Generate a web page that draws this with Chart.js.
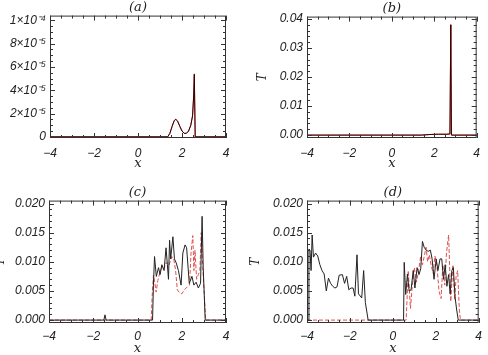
<!DOCTYPE html>
<html>
<head>
<meta charset="utf-8">
<script src="https://cdn.jsdelivr.net/npm/chart.js@4"></script>
<style>
body { margin: 0; background: #fff; width: 488px; height: 355px; overflow: hidden; position: relative; }
.panel { position: absolute; }
</style>
</head>
<body>
<div class="panel" style="left:0;top:0;width:244px;height:177px"><canvas id="pa"></canvas></div>
<div class="panel" style="left:244px;top:0;width:244px;height:177px"><canvas id="pb"></canvas></div>
<div class="panel" style="left:-8px;top:177px;width:252px;height:178px"><canvas id="pc"></canvas></div>
<div class="panel" style="left:244px;top:177px;width:244px;height:178px"><canvas id="pd"></canvas></div>
<script>
// x ticks shared by all panels
const xTicks = [-4, -2, 0, 2, 4]
const xTickLabels = ['\u22124', '\u22122', '0', '2', '4']

const yTicksA = [0, 2e-5, 4e-5, 6e-5, 8e-5, 1e-4]
const yLabelsA = ['0', '2\u00d710\u207b\u2075', '4\u00d710\u207b\u2075', '6\u00d710\u207b\u2075', '8\u00d710\u207b\u2075', '1\u00d710\u207b\u2074']
const yTicksB = [0, 0.01, 0.02, 0.03, 0.04]
const yLabelsB = ['0.00', '0.01', '0.02', '0.03', '0.04']
const yTicksCD = [0, 0.005, 0.01, 0.015, 0.02]
const yLabelsCD = ['0.000', '0.005', '0.010', '0.015', '0.020']

// (a)
const xA = [-4, 1.35, 1.45, 1.55, 1.65, 1.72, 1.8, 1.9, 2.0, 2.1, 2.2, 2.3, 2.4, 2.48, 2.53, 2.56, 2.6, 4]
const yA1 = [0, 0, 0.3e-5, 0.9e-5, 1.4e-5, 1.5e-5, 1.35e-5, 0.9e-5, 0.5e-5, 0.3e-5, 0.3e-5, 0.5e-5, 1.0e-5, 1.8e-5, 3.5e-5, 5.4e-5, 0, 0]
const yA2 = [0, 0, 0.3e-5, 0.9e-5, 1.4e-5, 1.5e-5, 1.35e-5, 0.9e-5, 0.5e-5, 0.3e-5, 0.3e-5, 0.5e-5, 1.0e-5, 1.8e-5, 3.5e-5, 5.3e-5, 0, 0]

// (b)
const xB = [-4, 1.4, 1.8, 2.2, 2.6, 2.74, 2.78, 2.81, 4]
const yB1 = [0, 0, 0.0002, 0.0003, 0.0003, 0.0004, 0.038, 0, 0]
const yB2 = [0, 0, 0.0002, 0.0003, 0.0003, 0.0004, 0.038, 0, 0]

// (c)
const xC1 = [-4, -1.52, -1.47, -1.42, 0.68, 0.72, 0.77, 0.85, 0.95, 1.02, 1.1, 1.2, 1.29, 1.35, 1.4, 1.45, 1.5, 1.6, 1.67, 1.75, 1.85, 1.97, 2.05, 2.15, 2.22, 2.34, 2.46, 2.55, 2.65, 2.75, 2.85, 2.92, 2.97, 3.06, 4]
const yC1 = [0, 0, 0.0009, 0, 0, 0.006, 0.0109, 0.0075, 0.009, 0.0078, 0.0095, 0.0085, 0.0124, 0.0095, 0.007, 0.0137, 0.0105, 0.0143, 0.0105, 0.0098, 0.0085, 0.006, 0.0115, 0.0129, 0.0124, 0.0063, 0.0075, 0.006, 0.0065, 0.0055, 0.0063, 0.0178, 0.009, 0, 0]
const xC2 = [-4, 0.62, 0.66, 0.72, 0.78, 0.84, 0.92, 1.0, 1.1, 1.2, 1.3, 1.42, 1.55, 1.65, 1.72, 1.8, 1.9, 2.0, 2.12, 2.25, 2.35, 2.42, 2.5, 2.55, 2.6, 2.67, 2.75, 2.82, 2.88, 2.95, 3.02, 3.08, 4]
const yC2 = [0, 0, 0.004, 0.0077, 0.0065, 0.0048, 0.0068, 0.008, 0.0091, 0.0088, 0.0099, 0.0094, 0.0109, 0.0102, 0.0086, 0.0052, 0.0047, 0.0045, 0.0052, 0.0057, 0.006, 0.0115, 0.0145, 0.0085, 0.012, 0.007, 0.0078, 0.0085, 0.015, 0.009, 0.0045, 0, 0]

// (d)
const xD1 = [-4, -3.93, -3.91, -3.86, -3.81, -3.76, -3.7, -3.6, -3.5, -3.4, -3.3, -3.2, -3.1, -3.0, -2.9, -2.8, -2.7, -2.6, -2.5, -2.35, -2.25, -2.15, -2.05, -1.95, -1.85, -1.77, -1.67, -1.6, -1.45, -1.36, -1.28, -1.15, 0.5, 0.53, 0.6, 0.68, 0.76, 0.85, 0.95, 1.03, 1.13, 1.22, 1.3, 1.38, 1.46, 1.55, 1.65, 1.75, 1.83, 1.92, 2.02, 2.1, 2.2, 2.28, 2.36, 2.44, 2.52, 2.6, 2.67, 2.75, 2.82, 2.9, 2.97, 3.05, 4]
const yD1 = [0, 0, 0.0122, 0.012, 0.0085, 0.0146, 0.0108, 0.0115, 0.011, 0.0095, 0.0085, 0.0079, 0.005, 0.0072, 0.0063, 0.0058, 0.0055, 0.0057, 0.0077, 0.0078, 0.0063, 0.0075, 0.0052, 0.0055, 0.0055, 0.0041, 0.0112, 0.0045, 0.0038, 0.0085, 0.003, 0, 0, 0.0099, 0.0044, 0.0079, 0.005, 0.0052, 0.0085, 0.0055, 0.009, 0.0078, 0.0088, 0.0135, 0.0125, 0.012, 0.0118, 0.012, 0.0105, 0.007, 0.0105, 0.0085, 0.0105, 0.0105, 0.007, 0.0095, 0.0058, 0.0078, 0.0045, 0.0085, 0.009, 0.004, 0.0019, 0, 0]
const xD2 = [-4, 0.62, 0.72, 0.82, 0.92, 1.0, 1.1, 1.2, 1.3, 1.38, 1.45, 1.55, 1.62, 1.7, 1.78, 1.88, 1.96, 2.05, 2.15, 2.25, 2.33, 2.42, 2.5, 2.6, 2.7, 2.8, 2.88, 2.95, 3.02, 3.1, 3.15, 4]
const yD2 = [0, 0, 0.0085, 0.002, 0.0065, 0.009, 0.0065, 0.0085, 0.011, 0.0095, 0.0107, 0.0125, 0.01, 0.0112, 0.0095, 0.008, 0.011, 0.0095, 0.005, 0.0037, 0.0095, 0.006, 0.0115, 0.0146, 0.0032, 0.0095, 0.0035, 0.0075, 0.0085, 0.0017, 0, 0]

const pts = (xs, ys) => xs.map((x, i) => ({x: x, y: ys[i]}))

// box round the plot with inward ticks on all four sides, like IDL
const frame = {
  id: 'frame',
  afterDatasetsDraw(chart, args, o) {
    const {ctx, chartArea: a, scales: {x, y}} = chart
    ctx.save()
    ctx.strokeStyle = '#333'
    ctx.lineWidth = 1
    ctx.strokeRect(a.left + 0.5, a.top + 0.5, a.width - 1, a.height - 1)
    ctx.beginPath()
    const nx = Math.round((x.max - x.min) / o.xMinor)
    for (let k = 0; k <= nx; k++) {
      const len = k % o.xPer == 0 ? 5 : 3
      const px = Math.round(x.getPixelForValue(x.min + k * o.xMinor)) + 0.5
      ctx.moveTo(px, a.bottom); ctx.lineTo(px, a.bottom - len)
      ctx.moveTo(px, a.top); ctx.lineTo(px, a.top + len)
    }
    for (let k = 0; o.y0 + k * o.yMinor <= y.max; k++) {
      const len = k % o.yPer == 0 ? 5 : 3
      const py = Math.round(y.getPixelForValue(o.y0 + k * o.yMinor)) + 0.5
      ctx.moveTo(a.left, py); ctx.lineTo(a.left + len, py)
      ctx.moveTo(a.right, py); ctx.lineTo(a.right - len, py)
    }
    ctx.stroke()
    ctx.restore()
  }
}

const tickFont = {family: 'Liberation Sans', style: 'italic', size: 12}

function makePanel(id, p) {
  new Chart(document.getElementById(id), {
    type: 'line',
    data: {
      datasets: [
        {data: p.s1, borderColor: p.c1, borderWidth: 1, pointRadius: 0, tension: 0},
        {data: p.s2, borderColor: p.c2, borderWidth: 1, borderDash: p.dash, pointRadius: 0, tension: 0}
      ]
    },
    options: {
      responsive: true,
      maintainAspectRatio: false,
      animation: false,
      layout: {padding: {left: 0, right: p.padRight, top: p.padTop, bottom: 0}},
      plugins: {
        legend: {display: false},
        tooltip: {enabled: false},
        title: {
          display: true, text: p.title, fullSize: false,
          color: '#222', padding: {top: 0, bottom: 0},
          font: {family: 'DejaVu Serif', style: 'italic', size: 13, weight: 'normal', lineHeight: 1.2}
        },
        frame: p.frame
      },
      scales: {
        x: {
          type: 'linear', min: -4, max: 4,
          afterBuildTicks: s => { s.ticks = xTicks.map(v => ({value: v})) },
          afterFit: s => { s.height = p.xHeight },
          grid: {display: false, drawTicks: false}, border: {display: false},
          ticks: {color: '#222', font: tickFont, padding: p.xPad, maxRotation: 0,
            callback: (v, i) => xTickLabels[i]},
          title: {display: true, text: 'x', color: '#222', padding: {top: 0, bottom: p.xTitlePad},
            font: {family: 'DejaVu Serif', style: 'italic', size: 13, lineHeight: 1}}
        },
        y: {
          type: 'linear', min: p.yMin, max: p.yMax,
          afterBuildTicks: s => { s.ticks = p.yTicks.map(v => ({value: v})) },
          afterFit: s => { s.width = p.yWidth },
          grid: {display: false, drawTicks: false}, border: {display: false},
          ticks: {color: '#222', font: tickFont, padding: 4,
            callback: (v, i) => p.yLabels[i]},
          title: {display: p.yTitle, text: 'T', color: '#222', padding: {top: p.yTitlePad, bottom: 0},
            font: {family: 'DejaVu Serif', style: 'italic', size: 12, lineHeight: 1}}
        }
      }
    },
    plugins: [frame]
  })
}

makePanel('pa', {
  title: '(a)', s1: pts(xA, yA1), s2: pts(xA, yA2), c1: '#300', c2: 'rgba(200,30,30,0.85)', dash: [],
  yTicks: yTicksA, yLabels: yLabelsA, yMin: -0.1e-5, yMax: 10.4e-5, yTitle: false, yTitlePad: 0,
  padRight: 18, padTop: 0, yWidth: 50, xHeight: 39, xPad: 8, xTitlePad: 6.5,
  frame: {xMinor: 0.5, xPer: 4, y0: 0, yMinor: 0.5e-5, yPer: 4}
})
makePanel('pb', {
  title: '(b)', s1: pts(xB, yB1), s2: pts(xB, yB2), c1: '#300', c2: 'rgba(200,30,30,0.85)', dash: [],
  yTicks: yTicksB, yLabels: yLabelsB, yMin: -0.001, yMax: 0.0408, yTitle: true, yTitlePad: 13,
  padRight: 5, padTop: 1, yWidth: 63, xHeight: 39, xPad: 8, xTitlePad: 6.5,
  frame: {xMinor: 0.5, xPer: 4, y0: 0, yMinor: 0.002, yPer: 5}
})
makePanel('pc', {
  title: '(c)', s1: pts(xC1, yC1), s2: pts(xC2, yC2), c1: '#222', c2: '#e05050', dash: [4, 2],
  yTicks: yTicksCD, yLabels: yLabelsCD, yMin: -0.0005, yMax: 0.0205, yTitle: true, yTitlePad: 3,
  padRight: 18, padTop: 8, yWidth: 57, xHeight: 32, xPad: 6, xTitlePad: 0,
  frame: {xMinor: 0.5, xPer: 4, y0: 0, yMinor: 0.001, yPer: 5}
})
makePanel('pd', {
  title: '(d)', s1: pts(xD1, yD1), s2: pts(xD2, yD2), c1: '#222', c2: '#e05050', dash: [4, 2],
  yTicks: yTicksCD, yLabels: yLabelsCD, yMin: -0.0005, yMax: 0.0205, yTitle: true, yTitlePad: 6,
  padRight: 5, padTop: 8, yWidth: 63, xHeight: 32, xPad: 6, xTitlePad: 0,
  frame: {xMinor: 0.5, xPer: 4, y0: 0, yMinor: 0.001, yPer: 5}
})
</script>
</body>
</html>
